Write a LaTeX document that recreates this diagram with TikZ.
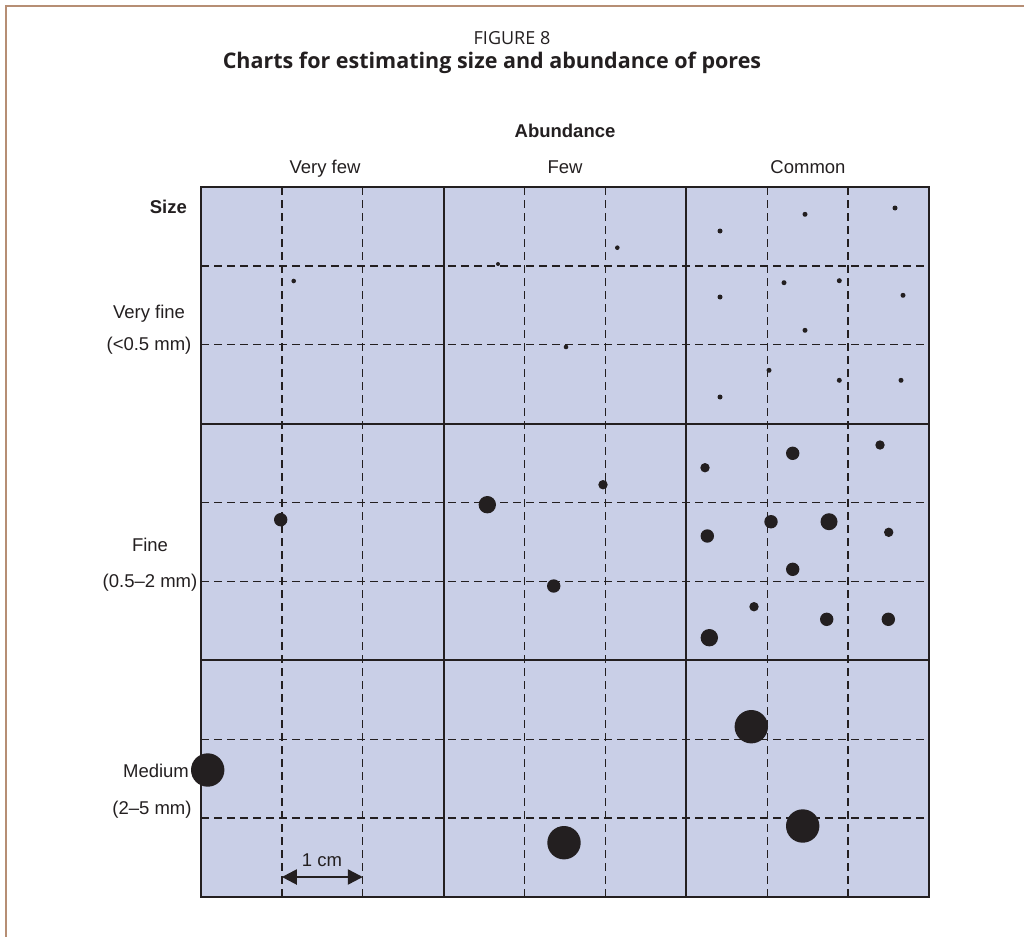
\documentclass[tikz,border=0pt]{standalone}
\usepackage{fontspec}
\setmainfont{Liberation Sans}
\newfontfamily\titlefont{Open Sans}
\usetikzlibrary{arrows.meta}
\definecolor{gridfill}{RGB}{201,207,231}
\definecolor{ink}{RGB}{35,31,32}
\definecolor{framebrown}{RGB}{182,142,116}
\tikzset{
  lbl/.style={font=\fontsize{18.5}{20}\selectfont, text=ink, inner sep=0pt, anchor=base},
  ttl/.style={font=\titlefont\fontsize{18}{20}\selectfont, text=ink, inner sep=0pt, anchor=base},
  dashline/.style={draw=ink, line width=1.3pt, dash pattern=on 8pt off 5pt},
  thickline/.style={draw=ink, line width=2.2pt},
  pore/.style={fill=ink},
}
\begin{document}
\begin{tikzpicture}[x=1pt,y=-1pt]
\useasboundingbox (0,0) rectangle (1024,936);
% outer frame
\draw[framebrown, line width=2.5pt] (6,940) -- (6,6) -- (1030,6);
% titles
\node[ttl] (fig) at (512,45) {FIGURE 8};
\node[ttl, font=\titlefont\bfseries\fontsize{21.5}{24}\selectfont] (cap) at (492,69) {Charts for estimating size and abundance of pores};
% grid
\def\cw{80.889}
\def\rh{78.889}
\fill[gridfill] (201,187) rectangle (929,897);
\foreach \i in {1,2,4,5,7,8}{
  \draw[dashline] ({201+\i*\cw},187) -- ({201+\i*\cw},897);
  \draw[dashline] (201,{187+\i*\rh}) -- (929,{187+\i*\rh});
}
\foreach \i in {3,6}{
  \draw[thickline] ({201+\i*\cw},187) -- ({201+\i*\cw},897);
  \draw[thickline] (201,{187+\i*\rh}) -- (929,{187+\i*\rh});
}
\draw[ink, line width=2.6pt] (201,187) rectangle (929,897);
% headers
\node[lbl, font=\bfseries\fontsize{18.5}{20}\selectfont] (abund) at (565,138) {Abundance};
\node[lbl] (vfew) at (325,173) {Very few};
\node[lbl] (few) at (565,173) {Few};
\node[lbl] (common) at (808,173) {Common};
\node[lbl, font=\bfseries\fontsize{18.5}{20}\selectfont, anchor=base east] (size) at (187,213) {Size};
\node[lbl] (vf1) at (149,318) {Very fine};
\node[lbl] (vf2) at (149,350) {(<0.5 mm)};
\node[lbl] (f1) at (150,551) {Fine};
\node[lbl] (f2) at (150,587) {(0.5–2 mm)};
\node[lbl] (m1) at (156,777) {Medium};
\node[lbl] (m2) at (152,814) {(2–5 mm)};
% pores
\foreach \x/\y/\r in {
  293.7/281/2.3, 498/264/2, 617.3/247.7/2.3, 566/347/2.3,
  720/231/2.5, 805/214.3/2.5, 895/208/2.5, 720/297/2.5, 784/282.7/2.5, 839.3/280.7/2.5,
  903/295.3/2.5, 805/330.3/2.5, 769/370.3/2.5, 839.3/380.3/2.5, 901/380.3/2.5, 720/397/2.5,
  280.7/519.7/6.7, 487.3/504.7/8.7, 603/484.7/4.7, 553.7/586/6.7,
  705/467.7/4.7, 792.7/453.3/6.7, 880/445/4.7, 707.3/536/6.7, 771/521.7/6.7, 829/521.7/8.5,
  888.7/532.3/4.7, 792.7/569.3/6.7, 754/606.7/4.7, 826.7/619.3/6.7, 888.3/619.3/6.7, 709.3/637.7/8.7,
  207.7/770/16.7, 564/842.7/16.7, 751.3/726.7/16.7, 802.7/826/16.7}{
  \fill[pore] (\x,\y) circle (\r);
}
% scale arrow
\coordinate (sa) at ({201+\cw},877);
\coordinate (sb) at ({201+2*\cw},877);
\draw[ink, line width=2.4pt, {Triangle[length=15pt,width=15pt]}-{Triangle[length=15pt,width=15pt]}] (sa) -- (sb);
\node[lbl] (cm) at (322,866) {1 cm};
\end{tikzpicture}
\end{document}
